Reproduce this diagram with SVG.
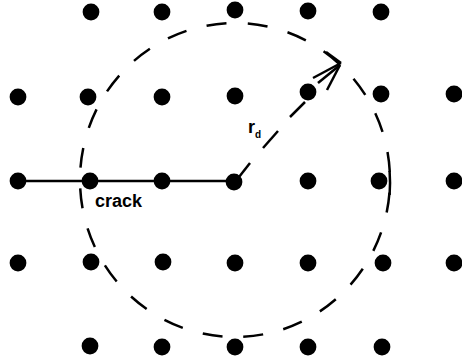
<svg xmlns="http://www.w3.org/2000/svg" width="462" height="362" viewBox="0 0 462 362">
<style>
.dot{fill:#000}
.ln{stroke:#000;stroke-width:2.5;fill:none;stroke-linecap:butt}
.lbl{font-family:"Liberation Sans",Arial,sans-serif;font-weight:bold;fill:#000}
</style>
<rect width="462" height="362" fill="#fff"/>
<g id="connectors">
<path class="ln" d="M235,23 A155,157 0 1 1 235,337 A155,157 0 1 1 235,23" stroke-dasharray="20 20.8" stroke-dashoffset="28"/>
<path class="ln" d="M389.6,171 A155,157 0 0 1 389.6,195"/>
<line class="ln" x1="18" y1="181" x2="234" y2="181"/>
<line class="ln" x1="239" y1="177" x2="250" y2="163"/>
<line class="ln" x1="263" y1="148" x2="278" y2="131"/>
<line class="ln" x1="290" y1="117" x2="305" y2="102"/>
<line class="ln" x1="313" y1="78" x2="341" y2="63"/>
<line class="ln" x1="326" y1="52" x2="341" y2="63"/>
<line class="ln" x1="318" y1="83" x2="340" y2="65"/>
<line class="ln" x1="327" y1="90" x2="340" y2="65"/>
</g>
<g id="dots">
<circle class="dot" cx="91" cy="12" r="8.4"/>
<circle class="dot" cx="162" cy="12" r="8.4"/>
<circle class="dot" cx="235" cy="10" r="8.4"/>
<circle class="dot" cx="308" cy="11" r="8.4"/>
<circle class="dot" cx="381" cy="12" r="8.4"/>
<circle class="dot" cx="18" cy="97" r="8.4"/>
<circle class="dot" cx="88" cy="97" r="8.4"/>
<circle class="dot" cx="162" cy="97" r="8.4"/>
<circle class="dot" cx="235" cy="96" r="8.4"/>
<circle class="dot" cx="308" cy="92" r="8.4"/>
<circle class="dot" cx="381" cy="94" r="8.4"/>
<circle class="dot" cx="454" cy="94" r="8.4"/>
<circle class="dot" cx="18" cy="181" r="8.4"/>
<circle class="dot" cx="90" cy="181" r="8.4"/>
<circle class="dot" cx="162" cy="181" r="8.4"/>
<circle class="dot" cx="234" cy="182" r="8.4"/>
<circle class="dot" cx="308" cy="181" r="8.4"/>
<circle class="dot" cx="379" cy="181" r="8.4"/>
<circle class="dot" cx="454" cy="181" r="8.4"/>
<circle class="dot" cx="18" cy="263" r="8.4"/>
<circle class="dot" cx="91" cy="262" r="8.4"/>
<circle class="dot" cx="163" cy="262" r="8.4"/>
<circle class="dot" cx="235" cy="263" r="8.4"/>
<circle class="dot" cx="308" cy="263" r="8.4"/>
<circle class="dot" cx="383" cy="263" r="8.4"/>
<circle class="dot" cx="454" cy="263" r="8.4"/>
<circle class="dot" cx="90" cy="346" r="8.4"/>
<circle class="dot" cx="162" cy="347" r="8.4"/>
<circle class="dot" cx="235" cy="347" r="8.4"/>
<circle class="dot" cx="308" cy="347" r="8.4"/>
<circle class="dot" cx="382" cy="347" r="8.4"/>
</g>
<g id="labels">
<text class="lbl" x="95" y="207" font-size="18">crack</text>
<text class="lbl" x="248" y="133" font-size="18">r<tspan font-size="10" dy="5">d</tspan></text>
</g>
</svg>
